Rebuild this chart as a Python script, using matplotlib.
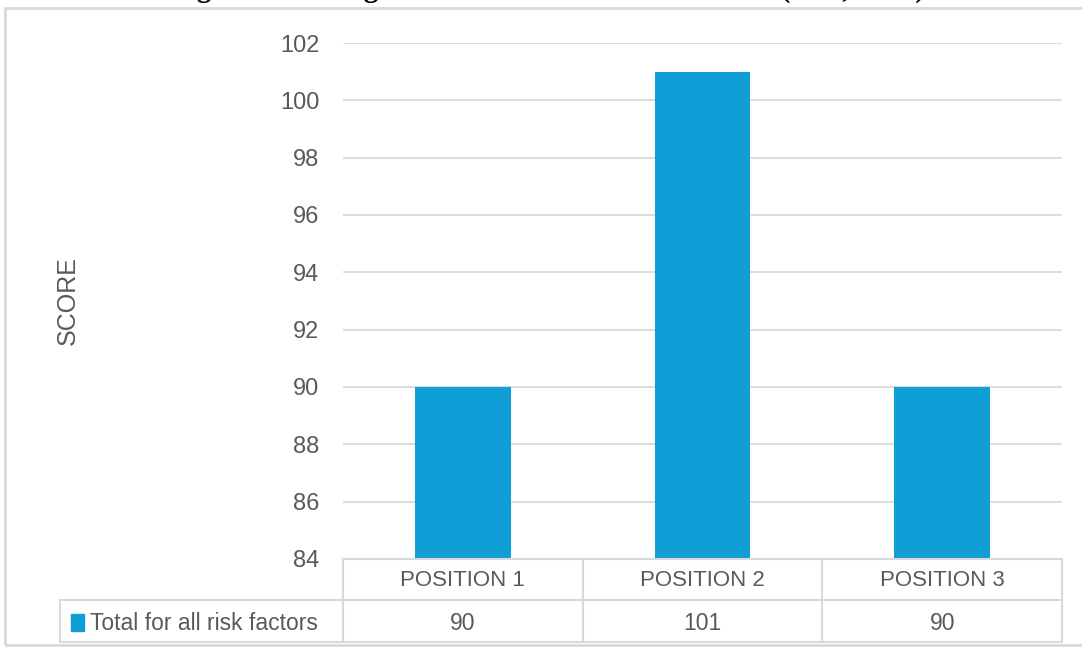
"""Averaged total score for all risk factors
"""
import matplotlib
matplotlib.use("Agg")
import matplotlib.pyplot as plt
from matplotlib.lines import Line2D
from matplotlib.patches import Rectangle
import matplotlib.transforms as mtransforms

# data
categories = ["POSITION 1", "POSITION 2", "POSITION 3"]
scores = [90, 101, 90]
series_name = "Total for all risk factors"
y_ticks = [84, 86, 88, 90, 92, 94, 96, 98, 100, 102]

W, H = 1082, 653
BLUE = "#0f9ed5"
GRID = "#d9d9d9"
TXT = "#595959"

plt.rcParams['font.family'] = ['Liberation Sans', 'DejaVu Sans']

fig = plt.figure(figsize=(W / 100, H / 100), dpi=100)

def fx(px):
	return px / W

def fy(py):
	return 1 - py / H

# plot area in pixels
left, right, top, bottom = 343, 1062, 43, 559
ax = fig.add_axes([fx(left), fy(bottom), fx(right - left), (bottom - top) / H])

x = range(len(categories))
ax.bar(x, [s - y_ticks[0] for s in scores], bottom=y_ticks[0], width=0.4, color=BLUE, zorder=3)
ax.set_xlim(-0.5, len(categories) - 0.5)
ax.set_ylim(y_ticks[0], y_ticks[-1])
ax.set_yticks(y_ticks)
ax.yaxis.grid(True, color=GRID, linewidth=1.3, zorder=0)
ax.set_xticks([])
for s in ax.spines.values():
	s.set_visible(False)
ax.tick_params(axis="y", length=0, pad=17, labelsize=17, labelcolor=TXT)
ax.set_ylabel("SCORE", fontsize=18, color=TXT, labelpad=0)
ax.yaxis.set_label_coords((80 - left) / (right - left), 0.5)

# outer chart frame
fig.patches.append(Rectangle((fx(5), fy(645)), fx(1100), fy(8) - fy(645),
	transform=fig.transFigure, fill=False, edgecolor=GRID, linewidth=2))

# data table below the chart
row_y = [559, 600, 642]
col_x = [left + i * (right - left) / len(categories) for i in range(len(categories) + 1)]
tab_left = 60

def hline(y, x0, x1):
	fig.add_artist(Line2D([fx(x0), fx(x1)], [fy(y), fy(y)], color=GRID, linewidth=1.5))

def vline(xp, y0, y1):
	fig.add_artist(Line2D([fx(xp), fx(xp)], [fy(y0), fy(y1)], color=GRID, linewidth=1.5))

hline(row_y[0], left, right)
hline(row_y[1], tab_left, right)
hline(row_y[2], tab_left, right)
for xp in col_x:
	vline(xp, row_y[0], row_y[2])
vline(tab_left, row_y[1], row_y[2])

table_font = ['Liberation Sans', 'DejaVu Sans']
trans = mtransforms.blended_transform_factory(ax.transData, fig.transFigure)
for i, (cat, val) in enumerate(zip(categories, scores)):
	fig.text(i, fy((row_y[0] + row_y[1]) / 2 + 1), cat, transform=trans, ha="center", va="center",
		fontsize=16, color=TXT, family=table_font)
	fig.text(i, fy((row_y[1] + row_y[2]) / 2 + 2), str(val), transform=trans, ha="center", va="center",
		fontsize=16.5, color=TXT, family=table_font)

# legend key inside the row header
fig.patches.append(Rectangle((fx(71), fy(631)), fx(13), fy(614) - fy(631),
	transform=fig.transFigure, color=BLUE))
fig.text(fx(90), fy((row_y[1] + row_y[2]) / 2 + 2), series_name, ha="left", va="center",
	fontsize=16.5, color=TXT, family=table_font)

# title, cut off at the top of the image as in the source
fig.text(fx(548), fy(-3), "Figure 6: Averaged total score for all risk factors (own, 2024)",
	ha="center", va="baseline", fontsize=21, fontweight="bold",
	family=['Liberation Serif', 'DejaVu Serif'])

fig.savefig("out.png", dpi=100)
